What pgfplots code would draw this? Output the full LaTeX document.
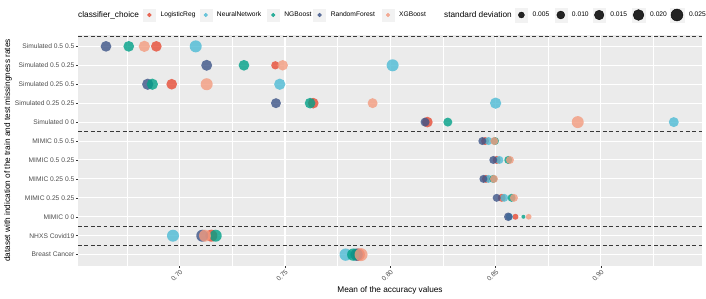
\documentclass[border=0pt]{standalone}
\usepackage{pgfplots}
\pgfplotsset{compat=1.18}
\usepackage{pgfplotstable}
\usepackage{fontspec}
\setmainfont{Liberation Sans}
\definecolor{LRc}{HTML}{E64B35}
\definecolor{NNc}{HTML}{4DBBD5}
\definecolor{NGc}{HTML}{00A087}
\definecolor{RFc}{HTML}{3C5488}
\definecolor{XGc}{HTML}{F39B7F}
\definecolor{panelgrey}{HTML}{EBEBEB}
\definecolor{keygrey}{HTML}{F2F2F2}
\definecolor{grey30}{HTML}{4D4D4D}
\definecolor{grey20}{HTML}{333333}

% x = mean accuracy, y = dataset row (0 = Breast Cancer ... 11 = Simulated 0.5 0.5), sd = standard deviation
\pgfplotstableread{
x y sd
0.6889 11 0.0194
0.7454 10 0.0109
0.6962 9 0.0194
0.7634 8 0.0194
0.8176 7 0.0194
0.8450 6 0.0100
0.8505 5 0.0100
0.8454 4 0.0100
0.8529 3 0.0100
0.8594 2 0.0050
0.7150 1 0.0250
0.7850 0 0.0265
}\LRdata
\pgfplotstableread{
x y sd
0.7076 11 0.0250
0.8011 10 0.0250
0.7475 9 0.0219
0.8500 8 0.0219
0.9346 7 0.0166
0.8466 6 0.0100
0.8518 5 0.0100
0.8466 4 0.0100
0.8541 3 0.0100
0.8565 2 0.0080
0.6968 1 0.0250
0.7788 0 0.0265
}\NNdata
\pgfplotstableread{
x y sd
0.6650 11 0.0194
0.7128 10 0.0206
0.6848 9 0.0219
0.7457 8 0.0166
0.8165 7 0.0131
0.8437 6 0.0100
0.8489 5 0.0100
0.8442 4 0.0100
0.8505 3 0.0100
0.8560 2 0.0115
0.7107 1 0.0250
0.7840 0 0.0265
}\RFdata
\pgfplotstableread{
x y sd
0.6758 11 0.0194
0.7305 10 0.0194
0.6870 9 0.0219
0.7619 8 0.0194
0.8273 7 0.0131
0.8497 6 0.0100
0.8560 5 0.0100
0.8489 4 0.0100
0.8576 3 0.0100
0.8632 2 0.0017
0.7171 1 0.0250
0.7824 0 0.0265
}\NGdata
\pgfplotstableread{
x y sd
0.6832 11 0.0219
0.7489 10 0.0186
0.7128 9 0.0250
0.7916 8 0.0166
0.8890 7 0.0250
0.8494 6 0.0100
0.8568 5 0.0100
0.8492 4 0.0100
0.8587 3 0.0100
0.8657 2 0.0044
0.7120 1 0.0250
0.7861 0 0.0298
}\XGdata

\pgfplotsset{
  sdpts/.style={scatter, only marks, mark=*, forget plot,
    scatter/use mapped color={draw=#1, fill=#1, draw opacity=0, fill opacity=0.8},
    mark options={draw opacity=0},
    visualization depends on={(0.575+34.3*sqrt(\thisrow{sd})) \as \rad},
    scatter/@pre marker code/.append style={/tikz/mark size=\rad bp}},
  clskey/.style={legend image code/.code={
    \fill[keygrey] (0bp,-6bp) rectangle (12bp,6bp);
    \fill[#1, opacity=0.8] (6bp,0bp) circle (1.9bp);
    \path (17bp,0bp);}},
  sizekey/.style 2 args={legend image code/.code={
    \fill[keygrey] (0bp,-7bp) rectangle (#1bp,7bp);
    \fill[black, opacity=0.85] ({#1bp/2},0bp) circle (#2bp);
    \path ({#1bp+5bp},0bp);}},
  nokey/.style={legend image code/.code={}},
}
\newcommand{\lt}[2]{\makebox[#1bp][l]{#2}}
\newcommand{\ttl}{\fontsize{8.3}{10}\selectfont}

\begin{document}
\begin{tikzpicture}
\useasboundingbox (0,0) rectangle (706bp,299bp);
\begin{axis}[
  at={(78bp,33bp)}, anchor=south west,
  scale only axis, width=624bp, height=231bp,
  xmin=0.6517, xmax=0.948, ymin=-0.6, ymax=11.6,
  axis background/.style={fill=panelgrey},
  axis line style={draw=none},
  xtick={0.70,0.75,0.80,0.85,0.90},
  xticklabels={0.70,0.75,0.80,0.85,0.90},
  minor xtick={0.675,0.725,0.775,0.825,0.875,0.925},
  ytick={0,...,11},
  yticklabels={Breast Cancer,NHXS Covid19,MIMIC 0 0,MIMIC 0.25 0.25,MIMIC 0.25 0.5,MIMIC 0.5 0.25,MIMIC 0.5 0.5,Simulated 0 0,Simulated 0.25 0.25,Simulated 0.25 0.5,Simulated 0.5 0.25,Simulated 0.5 0.5},
  xmajorgrids, ymajorgrids, xminorgrids,
  major grid style={white, line width=1.05bp},
  minor grid style={white, line width=0.52bp},
  tick align=outside,
  major tick length=2bp, minor tick length=0pt,
  tick style={grey20, line width=0.5bp},
  xtick pos=bottom, ytick pos=left,
  yticklabel style={font=\fontsize{6.7}{8}\selectfont, text=grey30, anchor=east, inner sep=0pt},
  xticklabel style={font=\fontsize{6.7}{8}\selectfont, text=grey30, rotate=45, anchor=north east, inner sep=0pt},
  xticklabel shift=1bp, yticklabel shift=1.5bp,
  xlabel={Mean of the accuracy values},
  ylabel={dataset with indication of the train and test missingness rates},
  xlabel style={font=\ttl, at={(axis description cs:0.5,-0.1039)}, anchor=center},
  ylabel style={font=\ttl, at={(axis description cs:-0.1122,0.5)}, anchor=center},
  legend columns=-1,
  legend style={at={(axis description cs:0,1)}, anchor=west, yshift=20bp,
    draw=none, fill=none, inner sep=0pt, column sep=0pt,
    font=\fontsize{6.7}{8}\selectfont,
    nodes={inner sep=0pt}},
  legend cell align=left,
  clip=false,
]
\addplot[sdpts=LRc] table[x=x, y=y] {\LRdata};
\addplot[sdpts=NNc] table[x=x, y=y] {\NNdata};
\addplot[sdpts=RFc] table[x=x, y=y] {\RFdata};
\addplot[sdpts=NGc] table[x=x, y=y] {\NGdata};
\addplot[sdpts=XGc] table[x=x, y=y] {\XGdata};

\addplot[forget plot, black!78, line width=1bp, dash pattern=on 3.8bp off 2.6bp] coordinates {(0.6517,11.5) (0.948,11.5)};
\addplot[forget plot, black!78, line width=1bp, dash pattern=on 3.8bp off 2.6bp] coordinates {(0.6517,6.5) (0.948,6.5)};
\addplot[forget plot, black!78, line width=1bp, dash pattern=on 3.8bp off 2.6bp] coordinates {(0.6517,1.5) (0.948,1.5)};
\addplot[forget plot, black!78, line width=1bp, dash pattern=on 3.8bp off 2.6bp] coordinates {(0.6517,0.5) (0.948,0.5)};

\addlegendimage{nokey}
\addlegendentry{\lt{65}{\ttl classifier\_choice}}
\addlegendimage{clskey=LRc}
\addlegendentry{\lt{39}{LogisticReg}}
\addlegendimage{clskey=NNc}
\addlegendentry{\lt{50}{NeuralNetwork}}
\addlegendimage{clskey=NGc}
\addlegendentry{\lt{29}{NGBoost}}
\addlegendimage{clskey=RFc}
\addlegendentry{\lt{51}{RandomForest}}
\addlegendimage{clskey=XGc}
\addlegendentry{\lt{45}{XGBoost}}
\addlegendimage{nokey}
\addlegendentry{\lt{71}{\ttl standard deviation}}
\addlegendimage{sizekey={12}{3.0}}
\addlegendentry{\lt{22}{0.005}}
\addlegendimage{sizekey={12}{4.0}}
\addlegendentry{\lt{21}{0.010}}
\addlegendimage{sizekey={12}{4.8}}
\addlegendentry{\lt{21.5}{0.015}}
\addlegendimage{sizekey={12.9}{5.43}}
\addlegendentry{\lt{19.6}{0.020}}
\addlegendimage{sizekey={14}{6.0}}
\addlegendentry{0.025}
\end{axis}
\end{tikzpicture}
\end{document}
